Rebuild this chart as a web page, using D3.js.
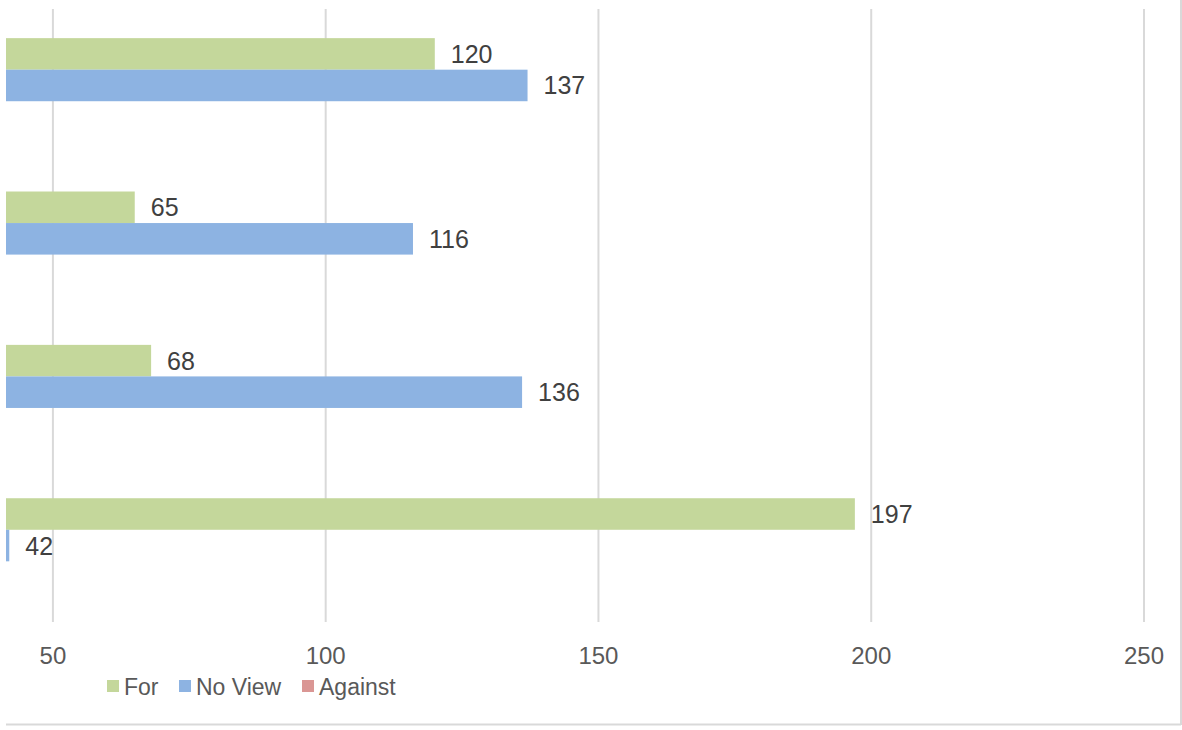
<!DOCTYPE html>
<html lang="en">
<head>
  <meta charset="UTF-8">
  <title>For / No View / Against</title>
  <script src="https://d3js.org/d3.v7.min.js"></script>
  <style>
    body { margin: 0; background: #fff; }
    text { font-family: "Liberation Sans", Arial, sans-serif; }
    .tick-label { font-size: 24px; fill: #595959; }
    .value-label { font-size: 25px; fill: #404040; }
    .legend-label { font-size: 23px; fill: #595959; }
  </style>
</head>
<body>
  <script>
    // data (top group first)
    const categories = ['A', 'B', 'C', 'D'];
    const seriesNames = ['For', 'No View', 'Against'];
    const forValues = [120, 65, 68, 197];
    const noViewValues = [137, 116, 136, 42];
    const againstValues = [null, null, null, null];
    const tickValues = [50, 100, 150, 200, 250];
    const colors = ['#c4d79b', '#8db3e2', '#da9694'];

    const width = 1182;
    const height = 730;

    const svg = d3.select('body').append('svg')
      .attr('width', width)
      .attr('height', height);

    const x = d3.scaleLinear().domain([41.4, 250]).range([6, 1144]);
    const y = d3.scaleBand().domain(categories).range([9, 622]).paddingInner(0.383).paddingOuter(0.19);
    const ySub = d3.scaleBand().domain(seriesNames).range([0, y.bandwidth()]);

    // gridlines
    svg.append('g')
      .selectAll('line')
      .data(tickValues)
      .enter().append('line')
      .attr('x1', d => x(d)).attr('x2', d => x(d))
      .attr('y1', 9).attr('y2', 622)
      .attr('stroke', '#d9d9d9')
      .attr('stroke-width', 2);

    // tick labels
    svg.append('g')
      .selectAll('text')
      .data(tickValues)
      .enter().append('text')
      .attr('class', 'tick-label')
      .attr('x', d => x(d))
      .attr('y', 664)
      .attr('text-anchor', 'middle')
      .text(d => d);

    const series = [forValues, noViewValues, againstValues];
    const rows = [];
    series.forEach((vals, si) => {
      vals.forEach((v, ci) => {
        if (v !== null) rows.push({ s: seriesNames[si], c: categories[ci], v: v, color: colors[si] });
      });
    });

    const minV = x.domain()[0];

    svg.append('g')
      .selectAll('rect')
      .data(rows)
      .enter().append('rect')
      .attr('x', x(minV))
      .attr('y', d => y(d.c) + ySub(d.s))
      .attr('width', d => x(d.v) - x(minV))
      .attr('height', ySub.bandwidth())
      .attr('fill', d => d.color);

    svg.append('g')
      .selectAll('text')
      .data(rows)
      .enter().append('text')
      .attr('class', 'value-label')
      .attr('x', d => x(d.v) + 16)
      .attr('y', d => y(d.c) + ySub(d.s) + ySub.bandwidth() / 2 + 9)
      .text(d => d.v);

    // legend
    const legendX = [107, 179, 302];
    const legend = svg.append('g')
      .selectAll('g')
      .data(seriesNames)
      .enter().append('g')
      .attr('transform', (d, i) => `translate(${legendX[i]},680)`);

    legend.append('rect')
      .attr('width', 12).attr('height', 12)
      .attr('fill', (d, i) => colors[i]);

    legend.append('text')
      .attr('class', 'legend-label')
      .attr('x', 17)
      .attr('y', 15)
      .text(d => d);

    // chart frame edges visible in the crop
    svg.append('line')
      .attr('x1', 6).attr('x2', 1181).attr('y1', 724.5).attr('y2', 724.5)
      .attr('stroke', '#d9d9d9').attr('stroke-width', 2);
    svg.append('line')
      .attr('x1', 1181).attr('x2', 1181).attr('y1', 0).attr('y2', 725)
      .attr('stroke', '#d9d9d9').attr('stroke-width', 2);
  </script>
</body>
</html>
